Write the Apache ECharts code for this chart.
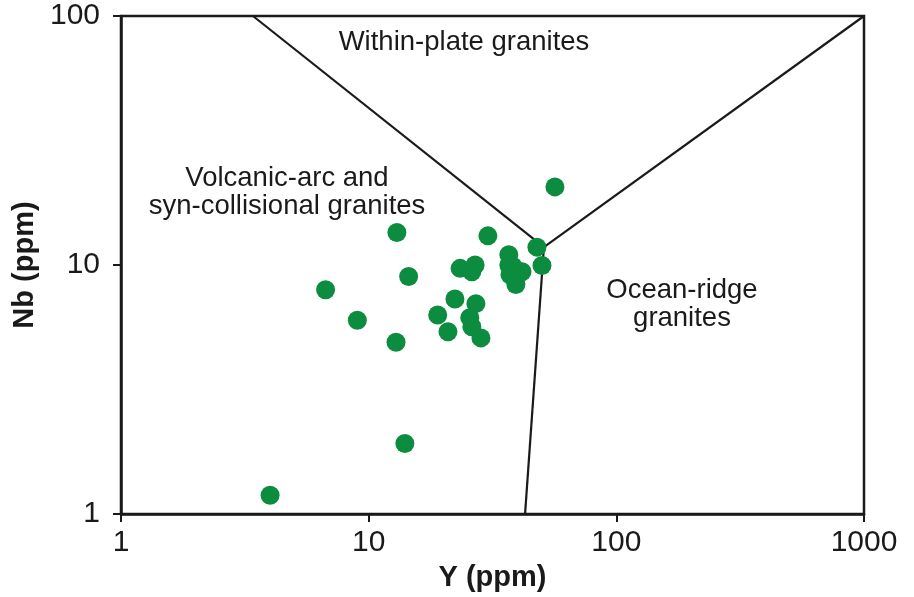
<!DOCTYPE html>
<html>
<head>
<meta charset="utf-8">
<script src="https://cdn.jsdelivr.net/npm/echarts@6/dist/echarts.min.js"></script>
<style>
  html, body { margin: 0; padding: 0; background: #fff; }
  #chart { width: 914px; height: 597px; }
</style>
</head>
<body>
<div id="chart"></div>
<script>
// sample points, Y (ppm) vs Nb (ppm)
const yPpm  = [4.0, 14.0, 6.7, 9.0, 12.9, 13.0, 14.5, 56.5, 30.3, 23.4, 26.9, 26.1,
               22.3, 19.0, 20.9, 27.1, 25.6, 26.1, 28.4,
               36.8, 36.8, 37.2, 39.3, 41.6, 38.2, 47.8, 50.1]
const nbPpm = [1.19, 1.92, 7.96, 6.0, 4.9, 13.5, 9.0, 20.6, 13.1, 9.7, 10.0, 9.4,
               7.3, 6.3, 5.4, 7.0, 6.15, 5.65, 5.1,
               11.0, 10.0, 9.15, 8.35, 9.4, 9.9, 11.8, 9.95]

// field boundaries (Y, Nb)
const wpgBoundary = [[3.41, 100], [51, 11.8]]
const orgBoundary = [[51, 11.8], [1000, 100]]
const vagBoundary = [[51, 11.8], [42.8, 1]]

const axisTicks = [1, 10, 100, 1000]

const font = '"Liberation Sans", Arial, Helvetica, sans-serif'
const black = '#1a1a1a'

const chart = echarts.init(document.getElementById('chart'))

const logAxis = (min, max, margin) => ({
  type: 'log',
  logBase: 10,
  min, max,
  axisLine: {show: true, onZero: false, lineStyle: {color: black, width: 2.5}},
  axisTick: {show: true, inside: false, length: 8, lineStyle: {color: black, width: 2}},
  minorTick: {show: false},
  splitLine: {show: false},
  axisLabel: {
    color: black, fontSize: 30, fontFamily: font, margin,
    formatter: v => axisTicks.includes(Math.round(v)) ? String(Math.round(v)) : ''
  },
  nameTextStyle: {color: black, fontSize: 29, fontWeight: 'bold', fontFamily: font}
})

const lineSeries = data => ({
  type: 'line',
  data,
  symbol: 'none',
  silent: true,
  lineStyle: {color: black, width: 2.2},
  z: 1
})

const label = (x, y, lines) => ({
  type: 'text',
  x, y,
  style: {
    text: lines.join('\n'),
    fontSize: 27.5,
    fontFamily: font,
    fill: black,
    align: 'center',
    verticalAlign: 'middle',
    lineHeight: 28
  },
  z: 10
})

chart.setOption({
  animation: false,
  backgroundColor: '#fff',
  grid: {
    left: 121, right: 50, top: 16, bottom: 82,
    show: true, borderColor: black, borderWidth: 2.5
  },
  xAxis: {
    ...logAxis(1, 1000, 14),
    name: 'Y (ppm)',
    nameLocation: 'middle',
    nameGap: 48
  },
  yAxis: {
    ...logAxis(1, 100, 21),
    name: 'Nb (ppm)',
    nameLocation: 'middle',
    nameGap: 78
  },
  series: [
    lineSeries(wpgBoundary),
    lineSeries(orgBoundary),
    lineSeries(vagBoundary),
    {
      type: 'scatter',
      data: yPpm.map((y, i) => [y, nbPpm[i]]),
      symbol: 'circle',
      symbolSize: 19,
      itemStyle: {color: '#0b8c3e', opacity: 1},
      z: 5
    }
  ],
  graphic: [
    label(464, 42, ['Within-plate granites']),
    label(287, 192, ['Volcanic-arc and', 'syn-collisional granites']),
    label(682, 304, ['Ocean-ridge', 'granites'])
  ]
})
</script>
</body>
</html>
